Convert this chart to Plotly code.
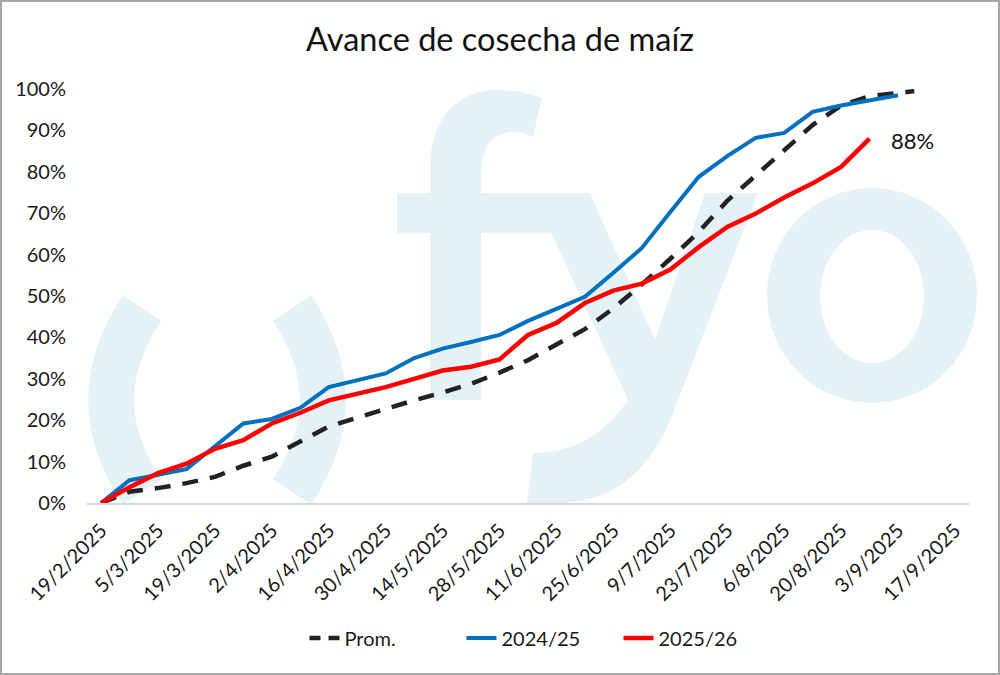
import plotly.graph_objects as go

# ---------------- data ----------------
fechas = ["2025-02-19", "2025-02-26", "2025-03-05", "2025-03-12", "2025-03-19",
          "2025-03-26", "2025-04-02", "2025-04-09", "2025-04-16", "2025-04-23",
          "2025-04-30", "2025-05-07", "2025-05-14", "2025-05-21", "2025-05-28",
          "2025-06-04", "2025-06-11", "2025-06-18", "2025-06-25", "2025-07-02",
          "2025-07-09", "2025-07-16", "2025-07-23", "2025-07-30", "2025-08-06",
          "2025-08-13", "2025-08-20", "2025-08-27", "2025-09-03"]
fechas_prom = fechas + ["2025-09-07"]

prom = [0, 2.7, 3.6, 4.8, 6.3, 9.0, 11.2, 14.8, 18.5, 20.6, 22.8, 24.8, 26.7, 28.8,
        31.5, 34.5, 38.3, 42.0, 47.0, 52.8, 59.0, 65.5, 73.0, 79.0, 85.0, 91.3,
        96.0, 98.3, 99.0, 99.5]
camp_2425 = [0, 5.5, 6.8, 8.2, 13.7, 19.2, 20.3, 23.0, 28.0, 29.7, 31.3, 35.0, 37.3,
             38.9, 40.6, 44.0, 47.0, 49.8, 55.6, 61.6, 70.3, 78.8, 83.8, 88.2, 89.4,
             94.5, 96.0, 97.3, 98.5]
camp_2526 = [0, 3.8, 7.2, 9.5, 13.1, 15.2, 19.2, 21.8, 24.8, 26.5, 28.0, 30.0, 32.0,
             32.9, 34.7, 40.6, 43.5, 48.3, 51.3, 53.0, 56.4, 61.8, 66.7, 69.9, 73.8,
             77.2, 81.2, 88.0]

series_names = ["Prom.", "2024/25", "2025/26"]
y_ticks = [0, 10, 20, 30, 40, 50, 60, 70, 80, 90, 100]
y_tick_labels = ["0%", "10%", "20%", "30%", "40%", "50%", "60%", "70%", "80%", "90%", "100%"]
x_tick_start = "2025-02-19"
x_range = ["2025-02-15 13:00", "2025-09-20 11:00"]
title_text = "Avance de cosecha de maíz"

# ---------------- layout helpers ----------------
W, H = 1000, 675
L, R, T, B = 87, 31, 89, 172
PW, PH = W - L - R, H - T - B


def X(px):
    return (px - L) / PW


def Y(py):
    return (H - B - py) / PH


def P(*pts):
    return " ".join(f"{X(a):.5f},{Y(b):.5f}" for a, b in pts)


WM = "#e4f2f6"
FONT = "Lato"
C_PROM, C_2425, C_2526 = "#222222", "#0070C0", "#FF0000"

fig = go.Figure()

fig.add_trace(go.Scatter(x=fechas_prom, y=prom, name=series_names[0], mode="lines",
                         showlegend=False, legendgroup="prom",
                         line=dict(color=C_PROM, width=4.5, dash="16px,12px")))
# legend entry for the average (shorter dash so the 30px legend sample shows two dashes)
fig.add_trace(go.Scatter(x=[None], y=[None], name=series_names[0], mode="lines",
                         legendgroup="prom",
                         line=dict(color=C_PROM, width=4.5, dash="11px,8px")))
fig.add_trace(go.Scatter(x=fechas, y=camp_2425, name=series_names[1], mode="lines",
                         line=dict(color=C_2425, width=4)))
fig.add_trace(go.Scatter(x=fechas[:len(camp_2526)], y=camp_2526, name=series_names[2],
                         mode="lines", line=dict(color=C_2526, width=4.5)))

shapes = []
# watermark "( )"
shapes.append(dict(type="path", xref="paper", yref="paper", layer="below",
                   path=f"M {P((142, 308))} C {P((101, 370), (101, 430), (142, 492))}",
                   line=dict(color=WM, width=46)))
shapes.append(dict(type="path", xref="paper", yref="paper", layer="below",
                   path=f"M {P((292, 308))} C {P((333, 370), (333, 430), (292, 492))}",
                   line=dict(color=WM, width=46)))
# watermark "f"
shapes.append(dict(type="path", xref="paper", yref="paper", layer="below",
                   path=(f"M {P((430, 400))} L {P((430, 170))} "
                         f"C {P((430, 115), (460, 90), (498, 90))} "
                         f"C {P((515, 90), (530, 93), (542, 98))} L {P((533, 137))} "
                         f"C {P((525, 133), (518, 131), (510, 132))} "
                         f"C {P((490, 135), (481, 150), (481, 175))} L {P((481, 400))} Z"),
                   fillcolor=WM, line=dict(width=0)))
shapes.append(dict(type="rect", xref="paper", yref="paper", layer="below",
                   x0=X(397), x1=X(590), y0=Y(233), y1=Y(193),
                   fillcolor=WM, line=dict(width=0)))
# watermark "y"
shapes.append(dict(type="path", xref="paper", yref="paper", layer="below",
                   path=(f"M {P((533, 193))} L {P((590, 193))} L {P((655, 340))} "
                         f"L {P((705, 193))} L {P((758, 193))} L {P((678, 400))} "
                         f"C {P((662, 445), (640, 480), (600, 496))} "
                         f"C {P((580, 503), (550, 505), (527, 503))} L {P((533, 453))} "
                         f"C {P((570, 452), (600, 440), (628, 400))} Z"),
                   fillcolor=WM, line=dict(width=0)))
# watermark "o"
shapes.append(dict(type="circle", xref="paper", yref="paper", layer="below",
                   x0=X(767), x1=X(977), y0=Y(403), y1=Y(188),
                   fillcolor=WM, line=dict(width=0)))
shapes.append(dict(type="circle", xref="paper", yref="paper", layer="below",
                   x0=X(820), x1=X(924), y0=Y(363), y1=Y(230),
                   fillcolor="white", line=dict(width=0)))
# chart frame
shapes.append(dict(type="rect", xref="paper", yref="paper", layer="above",
                   x0=X(1), x1=X(999), y0=Y(674), y1=Y(1),
                   line=dict(color="#a6a6a6", width=2), fillcolor="rgba(0,0,0,0)"))

fig.update_layout(
    width=W, height=H,
    margin=dict(l=L, r=R, t=T, b=B, pad=0, autoexpand=False),
    paper_bgcolor="white", plot_bgcolor="rgba(0,0,0,0)",
    font=dict(family=FONT, size=20, color="#1a1a1a"),
    title=dict(text=title_text, x=0.5, xref="container", xanchor="center",
               y=1 - 40 / H, yref="container", yanchor="middle",
               font=dict(family=FONT, size=32.5, color="#111111")),
    shapes=shapes,
    showlegend=True,
    legend=dict(orientation="h", x=X(540), xanchor="center", y=Y(638), yanchor="middle",
                font=dict(family=FONT, size=20, color="#1a1a1a"),
                entrywidth=112, entrywidthmode="pixels", traceorder="normal",
                bgcolor="rgba(0,0,0,0)"),
    xaxis=dict(type="date", range=x_range, tick0=x_tick_start, dtick=14 * 86400000,
               tickformat="%-d/%-m/%Y", tickangle=-45, showgrid=False,
               showline=True, linecolor="#d9d9d9", linewidth=2, ticks="",
               zeroline=False, ticklabelstandoff=6,
               tickfont=dict(family=FONT, size=20, color="#1a1a1a")),
    yaxis=dict(range=[0, 100], tickmode="array", tickvals=y_ticks, ticktext=y_tick_labels,
               showgrid=False, zeroline=False, showline=False, ticks="",
               ticklabelstandoff=20,
               tickfont=dict(family=FONT, size=20, color="#1a1a1a")),
    annotations=[dict(x=fechas[len(camp_2526) - 1], y=camp_2526[-1],
                      text=f"{camp_2526[-1]:.0f}%", showarrow=False,
                      xanchor="left", yanchor="middle", xshift=19, yshift=-2,
                      font=dict(family=FONT, size=22, color="#111111"))],
)

fig.write_html("out.html", config={"displayModeBar": False},
               post_script="document.body.style.margin='0';document.body.style.padding='0';")
